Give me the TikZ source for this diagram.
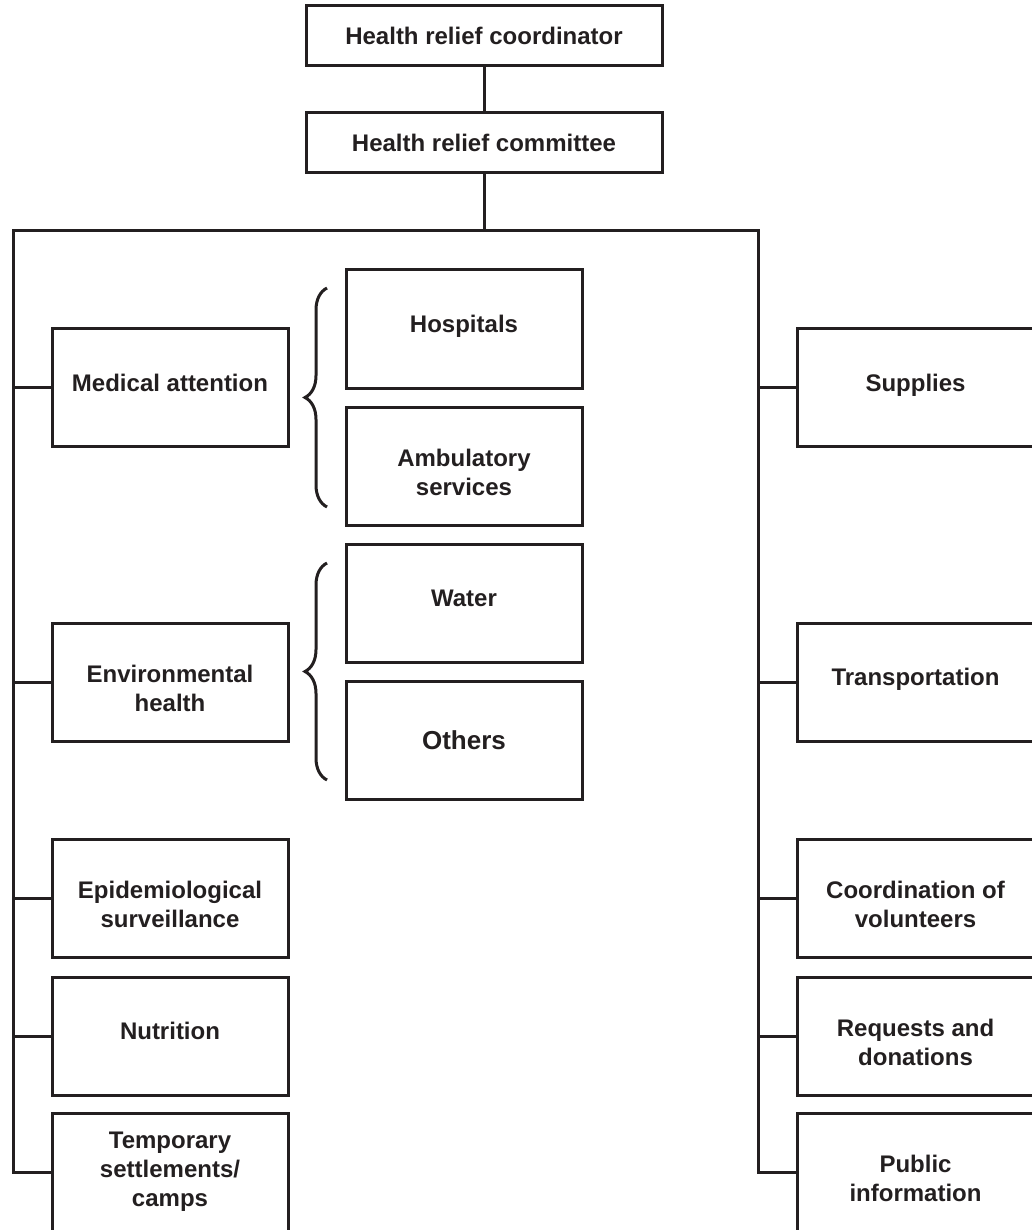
\documentclass[tikz,border=0pt]{standalone}
\usepackage{fontspec}
\setmainfont{Liberation Sans}
\usetikzlibrary{decorations.pathreplacing}
\definecolor{ink}{HTML}{231F20}

\begin{document}
\begin{tikzpicture}
            [x=1pt, y=-1pt, line width=3pt, line join=miter, draw=ink, text=ink,
             font=\fontsize{24}{29}\selectfont\bfseries,
             headbox/.style={draw=ink, minimum width=356pt, minimum height=60pt, inner sep=0pt},
             unitbox/.style={draw=ink, minimum width=236pt, minimum height=118pt, inner sep=0pt, align=center},
             sidebox/.style={unitbox, minimum width=237pt},
             oneline/.style={text height=17.5pt, text depth=10pt},
             twoline/.style={text height=58.5pt, text depth=0pt},
             curly/.style={draw=ink, decorate, decoration={brace, amplitude=22pt}}]
            \useasboundingbox (0, 0) rectangle (1032, 1230);

            \node[headbox] (coord) at (484, 36) {Health relief coordinator};
            \node[headbox] (comm) at (484, 142.5) {Health relief committee};

            \node[unitbox, oneline] (med) at (170, 387.5) {Medical attention};
            \node[unitbox, twoline] (env) at (170, 682) {Environmental\\health};
            \node[unitbox, twoline] (epi) at (170, 898) {Epidemiological\\surveillance};
            \node[unitbox, oneline] (nut) at (170, 1036) {Nutrition};
            \node[unitbox] (camp) at (170, 1172) {Temporary\\settlements/\\camps};

            \node[unitbox, oneline] (hosp) at (464, 329) {Hospitals};
            \node[unitbox, twoline] (amb) at (464, 466) {Ambulatory\\services};
            \node[unitbox, oneline] (water) at (464, 603) {Water};
            \node[unitbox, font=\fontsize{26}{31}\selectfont\bfseries] (other) at (464, 740) {Others};

            \node[sidebox, oneline] (supp) at (915.5, 387.5) {Supplies};
            \node[sidebox, oneline] (trans) at (915.5, 682) {Transportation};
            \node[sidebox, twoline] (vol) at (915.5, 898) {Coordination of\\volunteers};
            \node[sidebox, twoline] (don) at (915.5, 1036) {Requests and\\donations};
            \node[sidebox, twoline] (pub) at (915.5, 1172) {Public\\information};

            \coordinate (busL) at (13, 231);
            \coordinate (busM) at (484, 231);
            \coordinate (busR) at (758, 231);

            \draw (coord) -- (comm);
            \draw (comm) -- (busM);
            \draw (camp.west) -| (busL) -- (busR) |- (pub.west);
            \foreach \n in {med, env, epi, nut}
                \draw (busL |- \n.west) -- (\n.west);
            \foreach \n in {supp, trans, vol, don}
                \draw (busR |- \n.west) -- (\n.west);

            \draw[curly] (327, 507) -- (327, 288);
            \draw[curly] (327, 780) -- (327, 563);
\end{tikzpicture}
\end{document}
